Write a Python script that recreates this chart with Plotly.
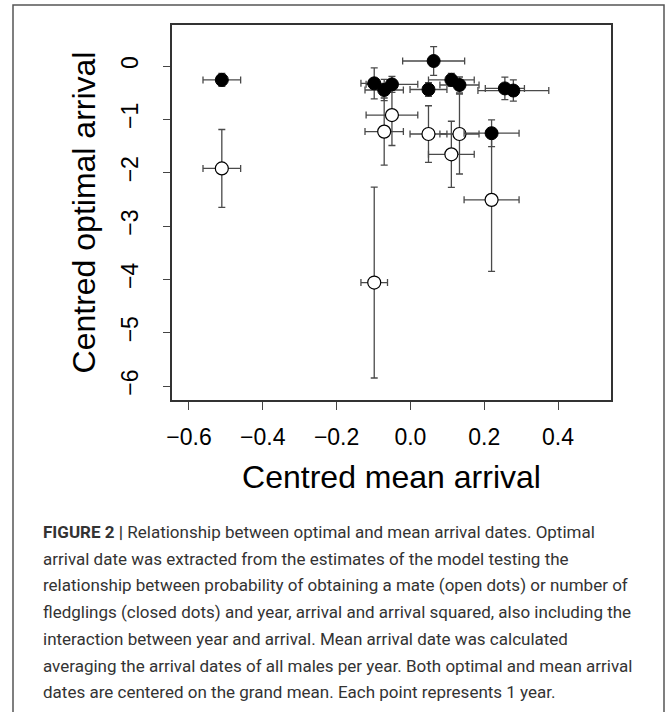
import plotly.graph_objects as go

# ---- data ----
closed_x = [-0.511, -0.098, -0.071, -0.050, 0.063, 0.049, 0.111, 0.133, 0.256, 0.279, 0.220]
closed_y = [-0.26, -0.325, -0.45, -0.344, 0.094, -0.44, -0.26, -0.356, -0.42, -0.46, -1.26]
closed_xerr = [0.051, 0.036, 0.052, 0.070, 0.084, 0.050, 0.062, 0.053, 0.053, 0.096, 0.0745]
closed_yerr = [0.12, 0.29, 0.20, 0.15, 0.27, 0.13, 0.12, 0.15, 0.21, 0.20, 0.25]

open_x = [-0.511, -0.050, -0.071, 0.049, 0.133, 0.111, 0.220, -0.098]
open_y = [-1.92, -0.92, -1.23, -1.275, -1.275, -1.656, -2.51, -4.06]
open_xerr = [0.051, 0.070, 0.052, 0.050, 0.053, 0.062, 0.0745, 0.036]
open_yerr = [0.73, 0.57, 0.63, 0.53, 0.75, 0.62, 1.34, 1.79]

x_ticks = [-0.6, -0.4, -0.2, 0.0, 0.2, 0.4]
x_ticklabels = ["\u22120.6", "\u22120.4", "\u22120.2", "0.0", "0.2", "0.4"]
y_ticks = [-6, -5, -4, -3, -2, -1, 0]
y_ticklabels = ["\u22126", "\u22125", "\u22124", "\u22123", "\u22122", "\u22121", "0"]

x_title = "Centred mean arrival"
y_title = "Centred optimal arrival"

caption_lines = [
    "<b>FIGURE 2 |</b> Relationship between optimal and mean arrival dates. Optimal",
    "arrival date was extracted from the estimates of the model testing the",
    "relationship between probability of obtaining a mate (open dots) or number of",
    "fledglings (closed dots) and year, arrival and arrival squared, also including the",
    "interaction between year and arrival. Mean arrival date was calculated",
    "averaging the arrival dates of all males per year. Both optimal and mean arrival",
    "dates are centered on the grand mean. Each point represents 1 year.",
]

# ---- layout geometry (pixels) ----
W, H = 672, 712
L, R, T, B = 172, 611, 25, 400
PW, PH = R - L, B - T

def px_x(p):
    return (p - L) / PW

def px_y(p):
    return (B - p) / PH

err_color = "#4a4a4a"

fig = go.Figure()
fig.add_trace(go.Scatter(
    x=open_x, y=open_y, mode="markers",
    marker=dict(size=13, color="white", line=dict(color="black", width=1.2)),
    error_x=dict(type="data", array=open_xerr, color=err_color, thickness=1.3, width=3.5),
    error_y=dict(type="data", array=open_yerr, color=err_color, thickness=1.3, width=3.5),
    showlegend=False, hoverinfo="skip",
))
fig.add_trace(go.Scatter(
    x=closed_x, y=closed_y, mode="markers",
    marker=dict(size=13, color="black", line=dict(color="black", width=1)),
    error_x=dict(type="data", array=closed_xerr, color=err_color, thickness=1.3, width=3.5),
    error_y=dict(type="data", array=closed_yerr, color=err_color, thickness=1.3, width=3.5),
    showlegend=False, hoverinfo="skip",
))

axis_font = dict(family="Liberation Sans, Arial, sans-serif", size=23, color="black")
title_font = dict(family="Liberation Sans, Arial, sans-serif", size=32, color="black")

fig.update_xaxes(
    range=[-0.646, 0.5436], tickvals=x_ticks, ticktext=x_ticklabels,
    ticks="outside", ticklen=8, tickwidth=1.2, tickcolor="#444",
    showline=True, linecolor="#333", linewidth=1.5, mirror=True,
    showgrid=False, zeroline=False, tickfont=axis_font,
    ticklabelstandoff=8,
    title=dict(text=x_title, font=title_font, standoff=16),
)
fig.update_yaxes(
    range=[-6.2625, 0.769], tickvals=y_ticks, ticktext=y_ticklabels,
    ticks="outside", ticklen=7, tickwidth=1.2, tickcolor="#444",
    showline=True, linecolor="#333", linewidth=1.5, mirror=True,
    showgrid=False, zeroline=False, tickfont=axis_font, tickangle=-90,
    ticklabelstandoff=16,
    title=dict(text=y_title, font=title_font, standoff=12),
)

shapes = [dict(type="rect", xref="paper", yref="paper",
               x0=px_x(13), x1=px_x(664), y0=px_y(730), y1=px_y(5),
               line=dict(color="#555", width=1.5), fillcolor="rgba(0,0,0,0)", layer="below")]

annotations = []
cap_y0, cap_dy = 532, 26.7
for i, line in enumerate(caption_lines):
    annotations.append(dict(
        text=line, xref="paper", yref="paper", x=px_x(41), y=px_y(cap_y0 + i * cap_dy),
        xanchor="left", yanchor="middle", showarrow=False, align="left",
        font=dict(family="Roboto, Liberation Sans, sans-serif", size=17, color="#333"),
    ))

fig.update_layout(
    width=W, height=H,
    margin=dict(l=L, r=W - R, t=T, b=H - B, autoexpand=False),
    paper_bgcolor="white", plot_bgcolor="white",
    shapes=shapes, annotations=annotations,
)

fig.write_html("out.html", config={"displayModeBar": False},
               post_script="document.body.style.margin='0';document.body.style.padding='0';")
